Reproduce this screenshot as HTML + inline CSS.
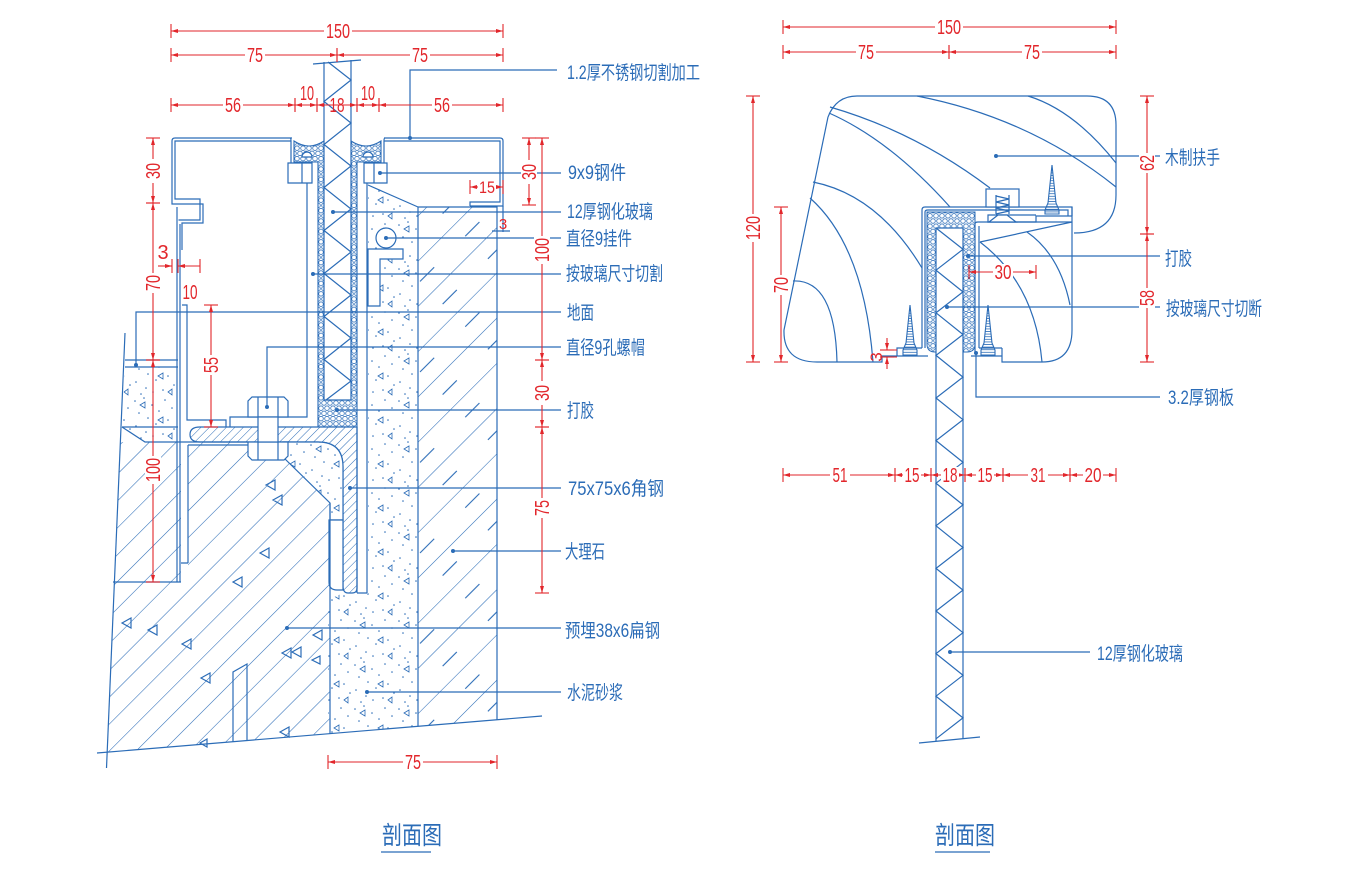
<!DOCTYPE html>
<html><head><meta charset="utf-8"><style>
html,body{margin:0;padding:0;background:#fff;}
svg{display:block}
.b{stroke:#2b6cb7;stroke-width:1.2;fill:none}
.bf{stroke:#2b6cb7;stroke-width:1.2;fill:#fff}
.r{stroke:#e2262b;stroke-width:1.1;fill:none;marker-start:url(#d);marker-end:url(#d)}
.re{stroke:#e2262b;stroke-width:1.1;fill:none;marker-end:url(#d)}
.rl{stroke:#e2262b;stroke-width:1.1;fill:none}
.dt{font-family:"Liberation Sans",sans-serif;font-size:20px;fill:#e2262b;text-anchor:middle}
.lb{font-family:"Liberation Sans","Noto Sans CJK SC",sans-serif;font-size:19px;fill:#2b6cb7}
.tt{font-family:"Liberation Sans","Noto Sans CJK SC",sans-serif;font-size:25px;fill:#2b6cb7}
.dot{fill:#2b6cb7}
</style></head><body>
<svg width="1359" height="884" viewBox="0 0 1359 884" xmlns="http://www.w3.org/2000/svg">
<defs>
<marker id="d" viewBox="-10 -10 20 20" refX="0" refY="0" markerWidth="20" markerHeight="20" markerUnits="userSpaceOnUse" orient="auto-start-reverse" overflow="visible">
<path d="M0,0 L-7,-2 L-7,2 Z" fill="#e2262b"/>
<path d="M0,-7 V7" stroke="#e2262b" stroke-width="1.1"/>
</marker>
<pattern id="hx" width="6" height="10.4" patternUnits="userSpaceOnUse">
<circle cx="3" cy="2.6" r="2.3" fill="none" stroke="#2b6cb7" stroke-width="0.8"/>
<circle cx="0" cy="7.8" r="2.3" fill="none" stroke="#2b6cb7" stroke-width="0.8"/>
<circle cx="6" cy="7.8" r="2.3" fill="none" stroke="#2b6cb7" stroke-width="0.8"/>
</pattern>
<pattern id="h1" width="19" height="10" patternUnits="userSpaceOnUse" patternTransform="rotate(45)">
<line x1="0" y1="0" x2="0" y2="10" stroke="#2b6cb7" stroke-width="1.1"/>
</pattern>
<pattern id="h2" width="6" height="10" patternUnits="userSpaceOnUse" patternTransform="rotate(45)">
<line x1="0" y1="0" x2="0" y2="10" stroke="#2b6cb7" stroke-width="1"/>
</pattern>
<pattern id="mb" width="32" height="64" patternUnits="userSpaceOnUse" patternTransform="rotate(45)">
<line x1="0" y1="0" x2="0" y2="64" stroke="#2b6cb7" stroke-width="1.1"/>
<line x1="16" y1="10" x2="16" y2="30" stroke="#2b6cb7" stroke-width="1.1"/>
</pattern>
<pattern id="th" width="6" height="2.6" patternUnits="userSpaceOnUse">
<line x1="0" y1="1.3" x2="6" y2="1.3" stroke="#2b6cb7" stroke-width="0.8"/>
</pattern>
<pattern id="dp" width="44" height="44" patternUnits="userSpaceOnUse">
<g fill="#2b6cb7">
<circle cx="3" cy="5" r="0.8"/><circle cx="12" cy="2" r="0.8"/><circle cx="20" cy="9" r="0.8"/><circle cx="33" cy="4" r="0.8"/>
<circle cx="40" cy="12" r="0.8"/><circle cx="7" cy="17" r="0.8"/><circle cx="16" cy="22" r="0.8"/><circle cx="27" cy="15" r="0.8"/>
<circle cx="36" cy="24" r="0.8"/><circle cx="4" cy="30" r="0.8"/><circle cx="14" cy="36" r="0.8"/><circle cx="24" cy="28" r="0.8"/>
<circle cx="31" cy="38" r="0.8"/><circle cx="42" cy="33" r="0.8"/><circle cx="9" cy="42" r="0.8"/><circle cx="21" cy="40" r="0.8"/>
</g>
<path d="M26,24 l5,-3 v6 z M8,9 l5,-3 v6 z M36,40 l4,-3 v6 z" fill="none" stroke="#2b6cb7" stroke-width="0.8"/>
</pattern>
</defs>

<!-- ================= LEFT DRAWING ================= -->
<!-- slab concrete -->
<path d="M120.2,442 H267 L330,503 V733.8 L106.7,752.2 Z" fill="url(#h1)"/>
<rect x="181" y="442" width="7" height="140" fill="#fff"/>
<!-- triangles in slab -->
<path class="b" d="M266,485 l9,-5 v10 z M273,500 l9,-5 v10 z M260,553 l9,-5 v10 z M233,582 l9,-5 v10 z M122,623 l9,-5 v10 z M148,630 l9,-5 v10 z M182,644 l9,-5 v10 z M201,678 l9,-5 v10 z M282,653 l9,-5 v10 z M292,652 l9,-5 v10 z M313,635 l9,-5 v10 z M280,732 l9,-5 v10 z M200,743 l7,-4 v8 z M312,660 l8,-4 v8 z" stroke-width="1"/>
<!-- screed -->
<path d="M125,367 H178 V442 H145 L122,427 Z" fill="url(#dp)"/>
<path class="b" d="M125,360 H178 M125,367 H178 M122,427 L145,442 H248 M122,427 H178"/>
<path class="b" d="M125,333 L106.5,768"/>
<path class="b" d="M113,582 H181"/>
<!-- mortar -->
<path d="M368,185 L418,207 V726.3 L328,733.8 V600 L343,593 H368 Z" fill="url(#dp)"/>
<path class="b" d="M368,185 L418,207"/>
<!-- marble -->
<path d="M418,207 H497 V719.8 L418,726.3 Z" fill="url(#mb)"/>
<path class="b" d="M418,207 H497 V719.8 M418,207 V726.3"/>
<!-- ground line -->
<path class="b" d="M97,753 L542,716"/>
<!-- embedded flat steel -->
<path class="b" d="M233,742 V672 L247,664 V741"/>
<!-- angle steel -->
<path d="M200,427 H357 V588 Q357,593 352,593 H348 Q343,593 343,586 V467 Q343,442 318,442 H200 Q190,442 190,434.5 Q190,427 200,427 Z" fill="url(#h2)" stroke="#2b6cb7" stroke-width="1.2"/>
<!-- grout in corner -->
<path d="M283,442 H318 Q343,442 343,467 V520 H330 V503 L283,457 Z" fill="#fff"/>
<path d="M283,442 H318 Q343,442 343,467 V520 H330 V503 L283,457 Z" fill="url(#dp)" stroke="#2b6cb7" stroke-width="1.2"/>
<!-- slot -->
<path class="bf" d="M329,520 V582 Q329,590 337,590 H343 V520 Z"/>
<path class="b" d="M330,503 V733.8"/>
<!-- inner lines left -->
<path class="b" d="M188,445 H248 M188,445 V563 M181,563 H188"/>
<!-- cap left (stainless) -->
<path class="b" d="M292,138 H175 Q172,138 172,141 V204 H203 V223 H182 V250"/>
<path class="b" d="M291,141 H175 V199 H200 V220 H178.5"/>
<path class="b" d="M177,207 V582 M180,224 V582"/>
<path class="b" d="M182,305 H187 V420 H226 V427 M230,427 V417 H307 V183"/>
<!-- cap right -->
<path class="b" d="M384,138 H500 Q503,138 503,141 V206 H470"/>
<path class="b" d="M384,141 H500 V202 H470 V206"/>
<path class="b" d="M503,206 V232 M492,231 H510"/>
<!-- pockets walls -->
<path class="b" d="M290,138 Q291,138 291,141 V163 M385,138 Q384,138 384,141 V163"/>
<!-- sealant -->
<path d="M294,141 Q309,151 324,141 V400 H351 V141 Q366,151 381,141 V162 H357 V427 H318 V162 H294 Z" fill="url(#hx)" stroke="#2b6cb7" stroke-width="1.1"/>
<path class="bf" d="M302,157 a5,5 0 0 1 10,0 z M363,157 a5,5 0 0 1 10,0 z"/>
<!-- glass -->
<rect x="324" y="62" width="27" height="338" fill="#fff"/>
<path class="b" d="M324,62 V400 H351 V60"/>
<path class="b" d="M328,62 L351,80 L324,101.5 L351,123 L324,144.5 L351,166 L324,187.5 L351,209 L324,230.5 L351,252 L324,273.5 L351,295 L324,316.5 L351,338 L324,359.5 L351,381 L326,400"/>
<path class="b" d="M313,64 L361,60"/>
<!-- 9x9 boxes -->
<path class="bf" d="M288,163 H312 V183 H288 Z M364,163 H387 V183 H364 Z"/>
<path class="b" d="M302,163 V183 M374,163 V183"/>
<path class="b" d="M357,427 V593 M367,183 V593 M357,593 H367"/>
<!-- hanger -->
<path class="bf" d="M368,249 H403 V259 H380 V306 H368 Z"/>
<circle class="bf" cx="386" cy="238" r="10"/>
<!-- bolt -->
<path class="bf" d="M252,397 H284 L288,401 V417 H248 V401 Z M248,442 H288 V456 L284,460 H252 L248,456 Z"/>
<rect x="258" y="417" width="20" height="25" fill="#fff" stroke="#2b6cb7" stroke-width="1.2"/>
<path class="b" d="M258,397 V417 M278,397 V417 M258,442 V460 M278,442 V460"/>

<!-- left leaders -->
<g class="b">
<path d="M410,138 V70 H557"/>
<path d="M380,173 H561"/>
<path d="M333,212 H561"/>
<path d="M386,238 H561"/>
<path d="M313,274 H561"/>
<path d="M136,365 V312 H561"/>
<path d="M267,407 V347 H561"/>
<path d="M337,410 H561"/>
<path d="M350,488 H561"/>
<path d="M453,551 H561"/>
<path d="M287,628 H561"/>
<path d="M367,692 H561"/>
</g>
<g class="dot">
<circle cx="410" cy="138" r="2"/><circle cx="380" cy="173" r="2"/><circle cx="333" cy="212" r="2"/><circle cx="386" cy="238" r="2"/>
<circle cx="313" cy="274" r="2"/><circle cx="136" cy="365" r="2"/><circle cx="267" cy="407" r="2"/><circle cx="337" cy="410" r="2"/>
<circle cx="350" cy="488" r="2"/><circle cx="453" cy="551" r="2"/><circle cx="287" cy="628" r="2"/><circle cx="367" cy="692" r="2"/>
</g>
<g class="lb">
<text x="567" y="79" textLength="133" lengthAdjust="spacingAndGlyphs">1.2厚不锈钢切割加工</text>
<text x="568" y="179" textLength="58" lengthAdjust="spacingAndGlyphs">9x9钢件</text>
<text x="567" y="218" textLength="86" lengthAdjust="spacingAndGlyphs">12厚钢化玻璃</text>
<text x="566" y="245" textLength="66" lengthAdjust="spacingAndGlyphs">直径9挂件</text>
<text x="566" y="280" textLength="97" lengthAdjust="spacingAndGlyphs">按玻璃尺寸切割</text>
<text x="567" y="319" textLength="27" lengthAdjust="spacingAndGlyphs">地面</text>
<text x="566" y="354" textLength="79" lengthAdjust="spacingAndGlyphs">直径9孔螺帽</text>
<text x="567" y="417" textLength="27" lengthAdjust="spacingAndGlyphs">打胶</text>
<text x="568" y="495" textLength="96" lengthAdjust="spacingAndGlyphs">75x75x6角钢</text>
<text x="565" y="558" textLength="40" lengthAdjust="spacingAndGlyphs">大理石</text>
<text x="565" y="637" textLength="95" lengthAdjust="spacingAndGlyphs">预埋38x6扁钢</text>
<text x="567" y="699" textLength="56" lengthAdjust="spacingAndGlyphs">水泥砂浆</text>
</g>

<!-- left dims -->
<g>
<line class="r" x1="171" y1="31" x2="503" y2="31"/>
<line class="r" x1="171" y1="55" x2="337" y2="55"/>
<line class="r" x1="337" y1="55" x2="503" y2="55"/>
<line class="r" x1="171" y1="105" x2="295" y2="105"/>
<line class="r" x1="295" y1="105" x2="317" y2="105"/>
<line class="r" x1="317" y1="105" x2="357" y2="105"/>
<line class="r" x1="357" y1="105" x2="379" y2="105"/>
<line class="r" x1="379" y1="105" x2="503" y2="105"/>
<line class="r" x1="470" y1="187" x2="503" y2="187"/>
<line class="r" x1="328" y1="762" x2="497" y2="762"/>
<line class="r" x1="153" y1="138" x2="153" y2="203"/>
<line class="r" x1="153" y1="203" x2="153" y2="360"/>
<line class="r" x1="153" y1="360" x2="153" y2="582"/>
<line class="r" x1="211" y1="305" x2="211" y2="427"/>
<line class="r" x1="529" y1="138" x2="529" y2="205"/>
<line class="r" x1="542" y1="138" x2="542" y2="360"/>
<line class="r" x1="542" y1="360" x2="542" y2="427"/>
<line class="r" x1="542" y1="427" x2="542" y2="593"/>
<line class="re" x1="158" y1="266" x2="172" y2="266"/>
<line class="re" x1="200" y1="266" x2="178" y2="266"/>
<line class="rl" x1="200" y1="259" x2="200" y2="273"/>
</g>
<g fill="#fff">
<rect x="324" y="23" width="28" height="16"/>
<rect x="245" y="47" width="20" height="16"/><rect x="410" y="47" width="20" height="16"/>
<rect x="223" y="97" width="20" height="16"/><rect x="432" y="97" width="20" height="16"/>
<rect x="478" y="180" width="18" height="14"/>
<rect x="403" y="754" width="20" height="16"/>
<rect x="145" y="159" width="16" height="24"/><rect x="145" y="273" width="16" height="20"/><rect x="145" y="456" width="16" height="28"/>
<rect x="203" y="355" width="16" height="20"/>
<rect x="521" y="160" width="16" height="24"/>
<rect x="534" y="236" width="16" height="28"/><rect x="534" y="381" width="16" height="24"/><rect x="534" y="498" width="16" height="20"/>
</g>
<g class="dt">
<text x="338" y="38" textLength="24" lengthAdjust="spacingAndGlyphs">150</text>
<text x="255" y="62" textLength="16" lengthAdjust="spacingAndGlyphs">75</text>
<text x="420" y="62" textLength="16" lengthAdjust="spacingAndGlyphs">75</text>
<text x="233" y="112" textLength="16" lengthAdjust="spacingAndGlyphs">56</text>
<text x="337" y="112" textLength="15" lengthAdjust="spacingAndGlyphs">18</text>
<text x="442" y="112" textLength="16" lengthAdjust="spacingAndGlyphs">56</text>
<text x="307" y="100" textLength="14" lengthAdjust="spacingAndGlyphs">10</text>
<text x="368" y="100" textLength="14" lengthAdjust="spacingAndGlyphs">10</text>
<text x="487" y="193" font-size="17" textLength="16" lengthAdjust="spacingAndGlyphs">15</text>
<text x="413" y="769" textLength="16" lengthAdjust="spacingAndGlyphs">75</text>
<text x="163" y="259">3</text>
<text x="190" y="299" textLength="15" lengthAdjust="spacingAndGlyphs">10</text>
<text x="503" y="229" font-size="15">3</text>
<text transform="translate(160,171) rotate(-90)" textLength="16" lengthAdjust="spacingAndGlyphs">30</text>
<text transform="translate(160,283) rotate(-90)" textLength="16" lengthAdjust="spacingAndGlyphs">70</text>
<text transform="translate(160,470) rotate(-90)" textLength="24" lengthAdjust="spacingAndGlyphs">100</text>
<text transform="translate(218,365) rotate(-90)" textLength="16" lengthAdjust="spacingAndGlyphs">55</text>
<text transform="translate(536,172) rotate(-90)" textLength="16" lengthAdjust="spacingAndGlyphs">30</text>
<text transform="translate(549,250) rotate(-90)" textLength="24" lengthAdjust="spacingAndGlyphs">100</text>
<text transform="translate(549,393) rotate(-90)" textLength="16" lengthAdjust="spacingAndGlyphs">30</text>
<text transform="translate(549,508) rotate(-90)" textLength="16" lengthAdjust="spacingAndGlyphs">75</text>
</g>
<!-- left title -->
<text class="tt" x="382" y="844" textLength="60" lengthAdjust="spacingAndGlyphs">剖面图</text>
<line class="b" x1="381" y1="852" x2="431" y2="852"/>

<!-- ================= RIGHT DRAWING ================= -->
<!-- handrail outline -->
<path class="b" d="M828,117 Q836,96 857,96 H1087 Q1116,96 1116,125 V195 Q1116,233 1074,233"/>
<path class="b" d="M828,117 L784,330 Q783,362 817,362 H882 V356 H897"/>
<path class="b" d="M1072,207 V330 Q1072,362 1042,362 H1002 V348"/>
<!-- grain -->
<g class="b">
<path d="M830,107 Q916,132 990,188"/>
<path d="M829,113 Q890,140 950,207"/>
<path d="M917,96 Q1030,118 1116,187"/>
<path d="M1028,96 Q1074,110 1116,163"/>
<path d="M813,182 Q878,195 922,268"/>
<path d="M810,198 Q864,246 873,362"/>
<path d="M793,281 Q835,279 837,362"/>
<path d="M980,242 Q1035,284 1042,362"/>
<path d="M1027,232 Q1060,255 1070,305"/>
<path d="M980,242 L1072,222"/>
</g>
<!-- channel -->
<path class="b" d="M922,348 V210 Q922,207 925,207 H1072 V216"/>
<path class="b" d="M925,348 V212 Q925,210 928,210 H1068 V216 H1036 V222 H988 V215 H1036 M1068,216 H1072"/>
<path class="b" d="M922,348 H897 V356 H928 M975,352 V224 Q975,222 978,222 H1072 M979,348 V226 M979,348 H1002 M971,356 H1002"/>
<!-- sealant -->
<path d="M927,212 H975 V344 Q975,352 967,352 H935 Q927,352 927,344 Z" fill="url(#hx)" stroke="#2b6cb7" stroke-width="1"/>
<!-- glass -->
<rect x="936" y="228" width="27" height="512" fill="#fff"/>
<path class="b" d="M936,741 V228 H963 V739"/>
<path class="b" d="M936,228 L963,249.3 L936,270.2 L963,291.9 L936,312.8 L963,334.5 L936,355.4 L963,377.1 L936,398 L963,419.7 L936,440.6 L963,462.3 L936,483.2 L963,504.9 L936,525.8 L963,547.5 L936,568.4 L963,590.1 L936,611 L963,632.7 L936,653.6 L963,675.3 L936,696.2 L963,717.9 L936,738.8"/>
<path class="b" d="M919,743 L980,737"/>
<!-- spring block -->
<rect class="bf" x="986" y="189" width="33" height="18"/>
<path class="b" d="M996,195 V214 M1009,195 V214 M996,196 L1009,199 L996,202 L1009,205 L996,208 L1009,211 L996,214"/>
<path class="bf" d="M989,222 L998,215 H1007 L1016,222 Z"/>
<!-- screws -->
<path d="M910,305 L914,343 L917,350 V355 H903 V350 L906,343 Z" fill="url(#th)" stroke="#2b6cb7" stroke-width="1.1"/>
<path d="M988,305 L992,343 L995,350 V355 H981 V350 L984,343 Z" fill="url(#th)" stroke="#2b6cb7" stroke-width="1.1"/>
<path d="M1052,165 L1056,203 L1059,210 V214 H1045 V210 L1048,203 Z" fill="url(#th)" stroke="#2b6cb7" stroke-width="1.1"/>

<!-- right leaders -->
<g class="b">
<path d="M996,156 H1160"/>
<path d="M968,256 H1160"/>
<path d="M947,307 H1160"/>
<path d="M976,353 V397 H1160"/>
<path d="M950,652 H1090"/>
</g>
<g class="dot">
<circle cx="996" cy="156" r="2"/><circle cx="968" cy="256" r="2"/><circle cx="947" cy="307" r="2"/><circle cx="976" cy="353" r="2"/><circle cx="950" cy="652" r="2"/>
</g>
<g class="lb">
<text x="1165" y="164" textLength="55" lengthAdjust="spacingAndGlyphs">木制扶手</text>
<text x="1165" y="265" textLength="27" lengthAdjust="spacingAndGlyphs">打胶</text>
<text x="1166" y="315" textLength="96" lengthAdjust="spacingAndGlyphs">按玻璃尺寸切断</text>
<text x="1168" y="404" textLength="66" lengthAdjust="spacingAndGlyphs">3.2厚钢板</text>
<text x="1097" y="660" textLength="86" lengthAdjust="spacingAndGlyphs">12厚钢化玻璃</text>
</g>

<!-- right dims -->
<g>
<line class="r" x1="783" y1="27" x2="1116" y2="27"/>
<line class="r" x1="783" y1="52" x2="949" y2="52"/>
<line class="r" x1="949" y1="52" x2="1116" y2="52"/>
<line class="r" x1="783" y1="475" x2="895" y2="475"/>
<line class="r" x1="895" y1="475" x2="931" y2="475"/>
<line class="r" x1="931" y1="475" x2="965" y2="475"/>
<line class="r" x1="965" y1="475" x2="1003" y2="475"/>
<line class="r" x1="1003" y1="475" x2="1070" y2="475"/>
<line class="r" x1="1070" y1="475" x2="1116" y2="475"/>
<line class="r" x1="969" y1="272" x2="1036" y2="272"/>
<line class="r" x1="753" y1="96" x2="753" y2="362"/>
<line class="r" x1="781" y1="207" x2="781" y2="362"/>
<line class="r" x1="1147" y1="96" x2="1147" y2="234"/>
<line class="r" x1="1147" y1="234" x2="1147" y2="362"/>
<line class="re" x1="887" y1="338" x2="887" y2="350"/>
<line class="re" x1="887" y1="369" x2="887" y2="357"/>
</g>
<g fill="#fff">
<rect x="935" y="19" width="28" height="16"/>
<rect x="856" y="44" width="20" height="16"/><rect x="1022" y="44" width="20" height="16"/>
<rect x="830" y="467" width="20" height="16"/><rect x="903" y="467" width="18" height="16"/><rect x="941" y="467" width="18" height="16"/>
<rect x="976" y="467" width="18" height="16"/><rect x="1028" y="467" width="20" height="16"/><rect x="1083" y="467" width="20" height="16"/>
<rect x="993" y="264" width="20" height="16"/>
<rect x="745" y="214" width="16" height="28"/><rect x="773" y="275" width="16" height="20"/>
<rect x="1139" y="153" width="16" height="20"/><rect x="1139" y="288" width="16" height="20"/>
</g>
<g class="dt">
<text x="949" y="34" textLength="24" lengthAdjust="spacingAndGlyphs">150</text>
<text x="866" y="59" textLength="16" lengthAdjust="spacingAndGlyphs">75</text>
<text x="1032" y="59" textLength="16" lengthAdjust="spacingAndGlyphs">75</text>
<text x="840" y="482" textLength="15" lengthAdjust="spacingAndGlyphs">51</text>
<text x="912" y="482" textLength="15" lengthAdjust="spacingAndGlyphs">15</text>
<text x="950" y="482" textLength="15" lengthAdjust="spacingAndGlyphs">18</text>
<text x="985" y="482" textLength="15" lengthAdjust="spacingAndGlyphs">15</text>
<text x="1038" y="482" textLength="15" lengthAdjust="spacingAndGlyphs">31</text>
<text x="1093" y="482" textLength="17" lengthAdjust="spacingAndGlyphs">20</text>
<text x="1003" y="279" textLength="17" lengthAdjust="spacingAndGlyphs">30</text>
<text transform="translate(760,228) rotate(-90)" textLength="24" lengthAdjust="spacingAndGlyphs">120</text>
<text transform="translate(788,285) rotate(-90)" textLength="16" lengthAdjust="spacingAndGlyphs">70</text>
<text transform="translate(1154,163) rotate(-90)" textLength="16" lengthAdjust="spacingAndGlyphs">62</text>
<text transform="translate(1154,298) rotate(-90)" textLength="16" lengthAdjust="spacingAndGlyphs">58</text>
<text transform="translate(882,357) rotate(-90)" font-size="17">3</text>
</g>
<path class="rl" d="M880,350 H897 M880,357 H897"/>
<!-- right title -->
<text class="tt" x="935" y="844" textLength="60" lengthAdjust="spacingAndGlyphs">剖面图</text>
<line class="b" x1="935" y1="852" x2="990" y2="852"/>
</svg>
</body></html>
